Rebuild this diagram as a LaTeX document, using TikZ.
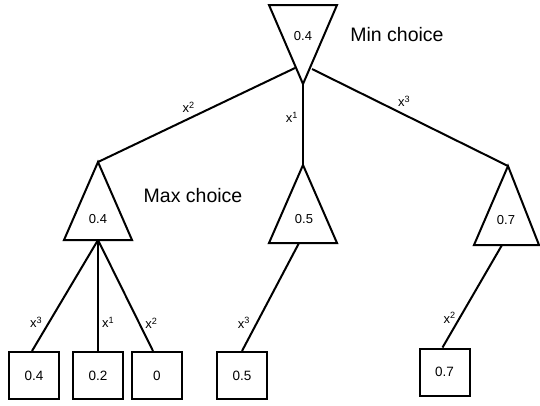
\documentclass[tikz,border=0pt]{standalone}
\usepackage{fontspec}
\setmainfont{Liberation Sans}
\usetikzlibrary{positioning}

\tikzset{
  tri/.style={line width=2pt, line join=miter},
  edge/.style={line width=2pt},
  leaf/.style={draw, line width=2pt, minimum width=50pt, minimum height=47pt,
               font=\fontsize{13.5}{14}\selectfont},
  val/.style={font=\fontsize{13}{14}\selectfont},
  lbl/.style={font=\fontsize{13}{14}\selectfont, inner sep=2pt},
  note/.style={font=\fontsize{19.5}{21}\selectfont}
}

\begin{document}
\begin{tikzpicture}[x=1pt,y=-1pt]
                \useasboundingbox (0,0) rectangle (540,405);
                % min node
                \coordinate (MinL) at (269,5);
                \coordinate (MinR) at (337,5);
                \coordinate (MinA) at (303,84);
                \coordinate (MinSL) at (295,68);
                \coordinate (MinSR) at (312,69);
                \draw [tri] (MinL) -- (MinR) -- (MinA) -- cycle;
                \node [val] (minval) at (303,36) {0.4};
                \node [note] (mintxt) at (397,35) {Min choice};
                % max nodes
                \coordinate (LA) at (98,162);
                \coordinate (LB) at (98,240);
                \draw [tri] (LA) -- (132,240) -- (64,240) -- cycle;
                \node [val] (lval) at (98,219) {0.4};
                \node [note] (maxtxt) at (193,196) {Max choice};
                \coordinate (MA) at (303,165);
                \coordinate (MB) at (299,243);
                \draw [tri] (MA) -- (337,243) -- (269,243) -- cycle;
                \node [val] (mval) at (304,219) {0.5};
                \coordinate (RA) at (508,166);
                \coordinate (RB) at (502,245);
                \draw [tri] (RA) -- (539,245) -- (474,245) -- cycle;
                \node [val] (rval) at (506,220) {0.7};
                % leaves
                \node [leaf] (L1) at (34,375.5) {0.4};
                \node [leaf] (L2) at (98,375.5) {0.2};
                \node [leaf] (L3) at (157,375.5) {0};
                \node [leaf] (M1) at (242,375.5) {0.5};
                \node [leaf] (R1) at (444.5,372) {0.7};
                % edges
                \draw [edge] (MinSL) -- (LA) node[lbl,pos=0.54,above=3pt] {x\textsuperscript{2}};
                \draw [edge] (MinA) -- (MA) node[lbl,pos=0.41,left=2pt] {x\textsuperscript{1}};
                \draw [edge] (MinSR) -- (RA) node[lbl,pos=0.47,above=5pt] {x\textsuperscript{3}};
                \draw [edge] (LB) -- ([xshift=-2pt]L1.north) node[lbl,pos=0.74,left=4pt] {x\textsuperscript{3}};
                \draw [edge] (LB) -- (L2.north) node[lbl,pos=0.74,right=1pt] {x\textsuperscript{1}};
                \draw [edge] (LB) -- ([xshift=-4pt]L3.north) node[lbl,pos=0.75,right=3pt] {x\textsuperscript{2}};
                \draw [edge] (MB) -- (M1.north) node[lbl,pos=0.74,left=4pt] {x\textsuperscript{3}};
                \draw [edge] (RB) -- ([xshift=-2pt]R1.north) node[lbl,pos=0.71,left=1pt] {x\textsuperscript{2}};
            \end{tikzpicture}
\end{document}
